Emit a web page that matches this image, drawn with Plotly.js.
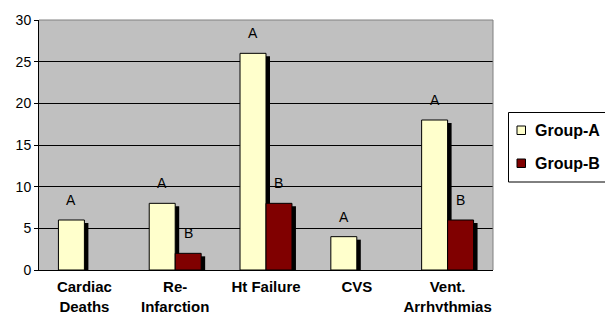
<!DOCTYPE html>
<html>
<head>
<meta charset="utf-8">
<script src="https://cdn.plot.ly/plotly-3.0.1.min.js"></script>
<style>html,body{margin:0;padding:0;background:#fff;}#chart{width:605px;height:312px;}</style>
</head>
<body>
<div id="chart"></div>
<script>
var categories = ["Cardiac<br>Deaths", "Re-<br>Infarction", "Ht Failure", "CVS", "Vent.<br>Arrhythmias"];
var seriesNames = ["Group-A", "Group-B"];
var seriesColors = ["#FFFFCC", "#800000"];
var groupA = [6, 8, 26, 4, 18];
var groupB = [null, 2, 8, null, 6];
var labelsA = ["A", "A", "A", "A", "A"];
var labelsB = ["", "B", "B", "", "B"];
var yTicks = [0, 5, 10, 15, 20, 25, 30];

var FONT = 'Liberation Sans, Arial, sans-serif';
var BW = 0.286;      // bar width in category units
var SH_X = 0.044;    // shadow horizontal offset (category units)
var SH_Y = 0.36;     // shadow drop (value units)
var CAT_PX = 454 / categories.length;

function shadow(vals) { return vals.map(function (v) { return v == null ? null : Math.max(v - SH_Y, 0); }); }

var traces = [
  {type: 'bar', x: categories, y: shadow(groupA), offset: -BW + SH_X, width: BW,
   marker: {color: '#000000', line: {width: 0}}, showlegend: false, hoverinfo: 'skip'},
  {type: 'bar', x: categories, y: shadow(groupB), offset: SH_X, width: BW,
   marker: {color: '#000000', line: {width: 0}}, showlegend: false, hoverinfo: 'skip'},
  {type: 'bar', name: seriesNames[0], x: categories, y: groupA, offset: -BW, width: BW,
   marker: {color: seriesColors[0], line: {color: '#000000', width: 1}}, showlegend: false},
  {type: 'bar', name: seriesNames[1], x: categories, y: groupB, offset: 0, width: BW,
   marker: {color: seriesColors[1], line: {color: '#000000', width: 1}}, showlegend: false}
];

var annotations = [];
categories.forEach(function (c, i) {
  if (groupA[i] != null && labelsA[i]) {
    annotations.push({x: c, y: groupA[i], text: labelsA[i], showarrow: false, xshift: -BW * CAT_PX / 2,
      yshift: 20, font: {family: FONT, size: 14, color: '#000'}});
  }
  if (groupB[i] != null && labelsB[i]) {
    annotations.push({x: c, y: groupB[i], text: labelsB[i], showarrow: false, xshift: BW * CAT_PX / 2,
      yshift: 20, font: {family: FONT, size: 14, color: '#000'}});
  }
});

// legend (drawn in paper coordinates)
function px(xp) { return (xp - 39) / 454; }
function py(yp) { return (270 - yp) / 250; }
var legendRows = [130, 163];
var shapes = [
  {type: 'line', xref: 'paper', yref: 'paper', x0: 0, x1: 1, y0: 1, y1: 1, line: {color: '#808080', width: 1}},
  {type: 'line', xref: 'paper', yref: 'paper', x0: 1, x1: 1, y0: 0, y1: 1, line: {color: '#808080', width: 1}},
  {type: 'rect', xref: 'paper', yref: 'paper', x0: px(508.5), x1: px(640), y0: py(182), y1: py(112.5),
   line: {color: '#000', width: 1}, fillcolor: '#fff'}
];
seriesNames.forEach(function (n, i) {
  var yc = legendRows[i];
  shapes.push({type: 'rect', xref: 'paper', yref: 'paper', x0: px(517), x1: px(525.5), y0: py(yc + 4.5), y1: py(yc - 4),
    line: {color: '#000', width: 1}, fillcolor: seriesColors[i]});
  annotations.push({xref: 'paper', yref: 'paper', x: px(532.5), y: py(yc), xanchor: 'left', yanchor: 'middle',
    text: '<b>' + n + '</b>', showarrow: false, font: {family: FONT, size: 16, color: '#000'}});
});

var layout = {
  width: 605, height: 312,
  margin: {l: 39, r: 112, t: 20, b: 42, autoexpand: false},
  paper_bgcolor: '#ffffff',
  plot_bgcolor: '#C0C0C0',
  barmode: 'overlay',
  showlegend: false,
  font: {family: FONT, color: '#000'},
  xaxis: {
    type: 'category', showline: true, linecolor: '#000', linewidth: 1,
    ticks: '', showgrid: false, zeroline: false, fixedrange: true, ticklabelstandoff: 3,
    tickfont: {family: FONT, size: 15, color: '#000', weight: 'bold'}
  },
  yaxis: {
    range: [0, 30], tickvals: yTicks, showline: true, linecolor: '#000', linewidth: 1,
    ticks: 'outside', ticklen: 4, tickcolor: '#000', showgrid: true, gridcolor: '#000', gridwidth: 1,
    zeroline: false, fixedrange: true,
    tickfont: {family: FONT, size: 14, color: '#000'}
  },
  annotations: annotations,
  shapes: shapes
};

Plotly.newPlot('chart', traces, layout, {displayModeBar: false, staticPlot: true});
</script>
</body>
</html>
